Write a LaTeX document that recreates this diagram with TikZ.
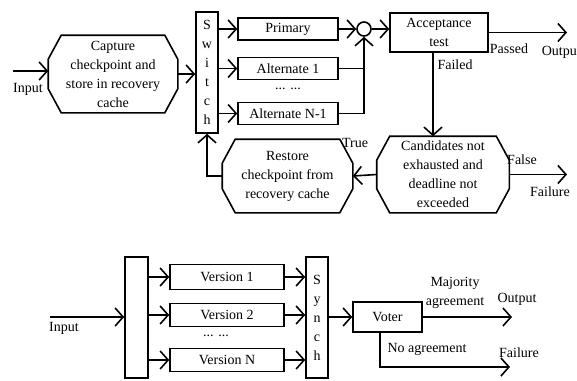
\documentclass[tikz,border=0pt]{standalone}
\usepackage{fontspec}
\setmainfont{Liberation Serif}
\usetikzlibrary{positioning,calc,arrows.meta}

\begin{document}
\begin{tikzpicture}
	\useasboundingbox (0,0) rectangle (577pt,-380pt);
	\begin{scope}[x=1pt, y=-1pt, line width=1.6pt, >={Straight Barb[length=8pt,width=18pt]}]
		\tikzstyle{every node}=[align=center, inner sep=0.2em, font=\fontsize{14}{19}\selectfont]
		\tikzstyle{box}=[draw, line width=1.6pt, minimum width=100pt, minimum height=22pt]
		\tikzstyle{bar}=[draw, line width=1.6pt, minimum width=22pt, minimum height=121pt, inner sep=0pt]
		\tikzstyle{oct}=[inner sep=0pt, append after command={\pgfextra{\draw[line width=1.6pt]
			($(\tikzlastnode.north west)+(13pt,0)$) -- ($(\tikzlastnode.north east)+(-13pt,0)$)
			-- ($(\tikzlastnode.north east)+(0,-24pt)$) -- ($(\tikzlastnode.south east)+(0,24pt)$)
			-- ($(\tikzlastnode.south east)+(-13pt,0)$) -- ($(\tikzlastnode.south west)+(13pt,0)$)
			-- ($(\tikzlastnode.south west)+(0,24pt)$) -- ($(\tikzlastnode.north west)+(0,-24pt)$) -- cycle;}}]

		% recovery blocks
		\coordinate (in) at (13,71);
		\node[oct, minimum width=128pt, minimum height=76pt] (cap) at (113,74) {Capture\\checkpoint and\\store in recovery\\cache};
		\node (inlbl) at (28,89) {Input};

		\node[bar] (sw) at (207,72.5) {S\\w\\i\\t\\c\\h};

		\node[box] (pri)  at (288,29)    {Primary};
		\node[box] (alt1) at (288,68.5)  {Alternate 1};
		\node      (dots) at (288,89)    {... ...};
		\node[box] (altn) at (288,113.5) {Alternate N-1};

		\node[draw, circle, line width=1.6pt, minimum size=14pt, inner sep=0pt] (jn) at (364,29) {};
		\node[box, minimum width=98pt, minimum height=39pt] (acc) at (439,32.5) {Acceptance\\test};

		\coordinate (out) at (567,32.5);
		\node (pass)   at (509,49) {Passed};
		\node[anchor=west] (outlbl) at (539,52) {Output};
		\node (fail)   at (455,65) {Failed};

		\node[oct, minimum width=131pt, minimum height=75pt] (cand) at (443,174.5) {Candidates not\\exhausted and\\deadline not\\exceeded};
		\node[oct, minimum width=129pt, minimum height=72pt] (rest) at (287.5,176) {Restore\\checkpoint from\\recovery cache};

		\coordinate (fl) at (567,174.5);
		\node (false)   at (522,160) {False};
		\node (failure) at (550,192) {Failure};
		\node (true)    at (355,143) {True};

		\draw[->] (in) -- (in -| cap.west);
		\draw[->] (cap.east) -- (cap.east -| sw.west);
		\draw[->] (sw.east |- pri) -- (pri.west);
		\draw[->] (sw.east |- alt1) -- (alt1.west);
		\draw[->] (sw.east |- altn) -- (altn.west);
		\draw[->] (pri.east) -- (jn.west);
		\draw (alt1.east) -- (alt1 -| jn);
		\draw[->] (altn.east) -- (altn -| jn) -- (jn.south);
		\draw[->] (jn.east) -- (jn -| acc.west);
		\draw[->] (acc.east) -- (out);
		\draw[->] ([xshift=-6pt]acc.south) -- ([xshift=-6pt]acc.south |- cand.north);
		\draw[->] (cand.east) -- (fl);
		\draw[->] (cand.west) -- (rest.east);
		\draw[->] (rest.west) -| (sw.south);

		% n-version programming
		\coordinate (in2) at (50,317);
		\node (inlbl2) at (64,328) {Input};
		\node[bar, minimum width=23pt] (spl) at (136.5,317.5) {};

		\node[box, minimum width=114pt, minimum height=25pt] (v1) at (227,277) {Version 1};
		\node[box, minimum width=114pt, minimum height=23pt] (v2) at (227,315) {Version 2};
		\node (dots2) at (216,336) {... ...};
		\node[box, minimum width=114pt, minimum height=23pt] (vn) at (227,360) {Version N};

		\node[bar] (sy) at (317,317.5) {S\\y\\n\\c\\h};
		\node[box, minimum width=69pt, minimum height=30pt] (vot) at (387.5,317) {Voter};

		\coordinate (out2) at (512,317);
		\coordinate (fl2) at (510,367);
		\node (maj)     at (455,293) {Majority\\agreement};
		\node (outlbl2) at (517,299) {Output};
		\node (noagr)   at (427,349) {No agreement};
		\node (failure2) at (519,353) {Failure};

		\draw[->] (in2) -- (in2 -| spl.west);
		\draw[->] (spl.east |- v1) -- (v1.west);
		\draw[->] (spl.east |- v2) -- (v2.west);
		\draw[->] (spl.east |- vn) -- (vn.west);
		\draw[->] (v1.east) -- (v1.east -| sy.west);
		\draw[->] (v2.east) -- (v2.east -| sy.west);
		\draw[->] (vn.east) -- (vn.east -| sy.west);
		\draw[->] (sy.east |- vot) -- (vot.west);
		\draw[->] (vot.east) -- (out2);
		\draw[->] ([xshift=-7.5pt]vot.south) |- (fl2);
	\end{scope}
\end{tikzpicture}
\end{document}
